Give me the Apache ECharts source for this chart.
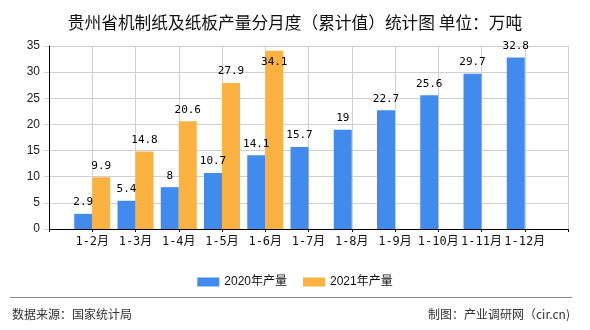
<!DOCTYPE html>
<html>
<head>
<meta charset="utf-8">
<script src="https://cdn.jsdelivr.net/npm/echarts@6/dist/echarts.min.js"></script>
<style>html,body{margin:0;padding:0;background:#fff;}#c{width:590px;height:330px;}</style>
</head>
<body>
<div id="c"></div>
<script>
var titleText = '贵州省机制纸及纸板产量分月度（累计值）统计图 单位：万吨';
var categories = ['', '1-2月', '1-3月', '1-4月', '1-5月', '1-6月', '1-7月', '1-8月', '1-9月', '1-10月', '1-11月', '1-12月', ''];
var seriesNames = ['2020年产量', '2021年产量'];
var values2020 = [null, 2.9, 5.4, 8, 10.7, 14.1, 15.7, 19, 22.7, 25.6, 29.7, 32.8, null];
var values2021 = [null, 9.9, 14.8, 20.6, 27.9, 34.1, null, null, null, null, null, null, null];
var yTicks = [0, 5, 10, 15, 20, 25, 30, 35];
var sourceText = '数据来源：国家统计局';
var makerText = '制图：产业调研网（cir.cn)';

var chart = echarts.init(document.getElementById('c'));
var labelFont = "'DejaVu Sans Mono', 'Noto Sans CJK SC', monospace";
function toData(arr) {
  return arr.map(function (v) {
    if (v !== null && v > 33.5) {
      return { value: v, label: { position: 'insideTop', distance: 6 } };
    }
    return v;
  });
}
var option = {
  animation: false,
  title: {
    text: titleText, left: 'center', top: 9,
    textStyle: { fontSize: 16.7, fontWeight: 'normal', color: '#111', fontFamily: "'Noto Sans CJK SC', sans-serif" }
  },
  legend: {
    top: 271, left: 'center', itemWidth: 22, itemHeight: 9, itemGap: 16,
    icon: 'rect',
    textStyle: { fontSize: 12, color: '#111', fontFamily: "'Liberation Sans', 'Noto Sans CJK SC', sans-serif" },
    data: seriesNames
  },
  grid: { left: 49, right: 22, top: 46, bottom: 101 },
  xAxis: {
    type: 'category', data: categories, boundaryGap: false,
    axisLine: { lineStyle: { color: '#000' } },
    axisTick: { show: true, length: 3, interval: 0, lineStyle: { color: '#000' } },
    axisLabel: { interval: 0, color: '#111', fontSize: 12, margin: 7, fontFamily: "'DejaVu Sans Mono', 'Noto Sans CJK SC', monospace" },
    splitLine: { show: true, interval: 0, lineStyle: { color: '#d0d0d0' } }
  },
  yAxis: {
    type: 'value', min: yTicks[0], max: yTicks[yTicks.length - 1], interval: 5,
    axisLine: { show: true, lineStyle: { color: '#000' } },
    axisTick: { show: true, length: 5, lineStyle: { color: '#d0d0d0' } },
    axisLabel: { color: '#222', fontSize: 12, margin: 9, fontFamily: "'Liberation Sans', Arial, sans-serif" },
    splitLine: { show: true, lineStyle: { color: '#d0d0d0' } }
  },
  series: [
    {
      name: seriesNames[0], type: 'bar', data: toData(values2020), barWidth: 18, barGap: '0%',
      itemStyle: { color: '#428BEE' },
      label: { show: true, position: 'top', distance: 6, color: '#000', fontSize: 11, fontFamily: labelFont }
    },
    {
      name: seriesNames[1], type: 'bar', data: toData(values2021), barWidth: 18, barGap: '0%',
      itemStyle: { color: '#FCB240' },
      label: { show: true, position: 'top', distance: 6, color: '#000', fontSize: 11, fontFamily: labelFont }
    }
  ],
  graphic: [
    { type: 'line', shape: { x1: 10, y1: 297.5, x2: 572, y2: 297.5 }, style: { stroke: '#888', lineWidth: 1 } },
    { type: 'text', left: 12, top: 308, style: { text: sourceText, fontSize: 12, fill: '#333', fontFamily: "'Noto Sans CJK SC', sans-serif" } },
    { type: 'text', right: 20, top: 308, style: { text: makerText, fontSize: 12, fill: '#333', fontFamily: "'Noto Sans CJK SC', sans-serif" } }
  ]
};
chart.setOption(option);
</script>
</body>
</html>
